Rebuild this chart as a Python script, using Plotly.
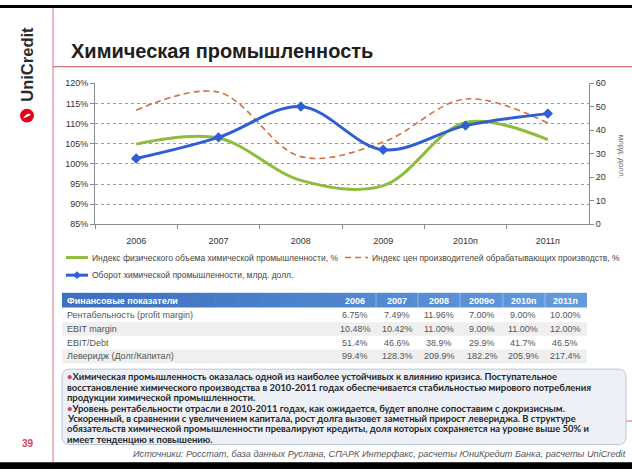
import plotly.graph_objects as go

W, H = 632, 474

# ---------------- data ----------------
categories = ["2006", "2007", "2008", "2009", "2010п", "2011п"]
phys_volume_idx = [104.9, 106.4, 95.9, 94.6, 110.3, 106.0]      # %, left axis
producer_price_idx = [113.3, 117.8, 101.8, 105.4, 116.1, 110.1]  # %, left axis
turnover_bn_usd = [28.0, 37.0, 50.1, 31.7, 42.0, 47.1]           # right axis

series_names = [
    "Индекс физического объема химической промышленности, %",
    "Индекс цен производителей обрабатывающих производств, %",
    "Оборот химической промышленности, млрд. долл.",
]

left_ticks = [85, 90, 95, 100, 105, 110, 115, 120]
right_ticks = [0, 10, 20, 30, 40, 50, 60]

table_header = ["Финансовые показатели", "2006", "2007", "2008", "2009о", "2010п", "2011п"]
table_rows = ["Рентабельность (profit margin)", "EBIT margin", "EBIT/Debt", "Леверидж (Долг/Капитал)"]
table_values = [
    ["6.75%", "7.49%", "11.96%", "7.00%", "9.00%", "10.00%"],
    ["10.48%", "10.42%", "11.00%", "9.00%", "11.00%", "12.00%"],
    ["51.4%", "46.6%", "38.9%", "29.9%", "41.7%", "46.5%"],
    ["99.4%", "128.3%", "209.9%", "182.2%", "205.9%", "217.4%"],
]

text_lines = [
    "<span style='color:#d2456a'>•</span>Химическая промышленность оказалась одной из наиболее устойчивых к влиянию кризиса. Поступательное",
    "восстановление химического производства в 2010-2011 годах обеспечивается стабильностью мирового потребления",
    "продукции химической промышленности.",
    "<span style='color:#d2456a'>•</span>Уровень рентабельности отрасли в 2010-2011 годах, как ожидается, будет вполне сопоставим с докризисным.",
    "Ускоренный, в сравнении с увеличением капитала, рост долга вызовет заметный прирост левериджа. В структуре",
    "обязательств химической промышленности превалируют кредиты, доля которых сохраняется на уровне выше 50% и",
    "имеет тенденцию к повышению.",
]
title_text = "Химическая промышленность"
source_text = "Источники: Росстат, база данных Руслана, СПАРК Интерфакс, расчеты ЮниКредит Банка, расчеты UniCredit"

# ---------------- helpers ----------------
def px(x):
    return x / W

def py(y):
    return 1 - y / H

FONT = "Liberation Sans, Arial, sans-serif"
GREEN = "#8dbd3c"
ORANGE = "#d8703e"
BLUE = "#2f5fd2"
RED = "#d9707c"

fig = go.Figure()

fig.add_trace(go.Scatter(
    x=categories, y=phys_volume_idx, mode="lines", name=series_names[0],
    line=dict(color=GREEN, width=3, shape="spline", smoothing=1), yaxis="y"))
fig.add_trace(go.Scatter(
    x=categories, y=producer_price_idx, mode="lines", name=series_names[1],
    line=dict(color=ORANGE, width=1.6, shape="spline", smoothing=1, dash="6px,4px"), yaxis="y"))
fig.add_trace(go.Scatter(
    x=categories, y=turnover_bn_usd, mode="lines+markers", name=series_names[2],
    line=dict(color=BLUE, width=3, shape="spline", smoothing=1),
    marker=dict(symbol="diamond", size=8, color=BLUE), yaxis="y2"))

shapes = []
ann = []

def text(t, x, y, font, xa="center", ya="middle", angle=0):
    ann.append(dict(text=t, x=px(x), y=py(y), xref="paper", yref="paper",
                    xanchor=xa, yanchor=ya, textangle=angle, showarrow=False, font=font))

# black bars top / bottom
shapes.append(dict(type="rect", xref="paper", yref="paper", x0=0, x1=1, y0=py(0), y1=py(3),
                   fillcolor="black", line=dict(width=0), layer="above"))
shapes.append(dict(type="rect", xref="paper", yref="paper", x0=0, x1=1, y0=py(467), y1=py(474),
                   fillcolor="black", line=dict(width=0), layer="above"))
# red vertical and title underline
shapes.append(dict(type="line", xref="paper", yref="paper", x0=px(53), x1=px(53), y0=py(3), y1=py(467),
                   line=dict(color=RED, width=1)))
shapes.append(dict(type="line", xref="paper", yref="paper", x0=px(53), x1=px(632), y0=py(63), y1=py(63),
                   line=dict(color=RED, width=1.2)))
shapes.append(dict(type="line", xref="paper", yref="paper", x0=px(626), x1=px(632), y0=py(425), y1=py(425),
                   line=dict(color=RED, width=1)))

# logo
text("<b>UniCredit</b>", 27, 61, dict(family=FONT, size=16.5, color="#2a2a2a"), angle=-90)
shapes.append(dict(type="circle", xref="paper", yref="paper", x0=px(20), x1=px(34), y0=py(106), y1=py(120),
                   fillcolor="#e2001a", line=dict(width=0)))
shapes.append(dict(type="path", xref="paper", yref="paper",
                   path=f"M {px(23)},{py(116)} Q {px(27)},{py(109)} {px(31)},{py(112)} L {px(28)},{py(114)} Z",
                   fillcolor="white", line=dict(width=0)))

# title
text(f"<b>{title_text}</b>", 69, 47, dict(family=FONT, size=20, color="#1e1e1e"), xa="left")

# right axis title
text("млрд. долл.", 621, 155, dict(family=FONT, size=8, color="#666"), angle=90)

# legend (manual)
LEG_FONT = dict(family=FONT, size=8.5, color="#444")
shapes.append(dict(type="line", xref="paper", yref="paper", x0=px(66), x1=px(88), y0=py(258), y1=py(258),
                   line=dict(color=GREEN, width=3)))
text(series_names[0], 90, 258, LEG_FONT, xa="left")
shapes.append(dict(type="line", xref="paper", yref="paper", x0=px(345), x1=px(368), y0=py(258), y1=py(258),
                   line=dict(color=ORANGE, width=1.6, dash="6px,4px")))
text(series_names[1], 370, 258, LEG_FONT, xa="left")
shapes.append(dict(type="line", xref="paper", yref="paper", x0=px(66), x1=px(88), y0=py(276), y1=py(276),
                   line=dict(color=BLUE, width=3)))
shapes.append(dict(type="path", xref="paper", yref="paper",
                   path=f"M {px(77)},{py(272)} L {px(81)},{py(276)} L {px(77)},{py(280)} L {px(73)},{py(276)} Z",
                   fillcolor=BLUE, line=dict(width=0)))
text(series_names[2], 90, 276, LEG_FONT, xa="left")

# table
tx0, tx1 = 62, 587
hy0, hy1 = 294, 309
nstrip = 24
for i in range(nstrip):
    a = i / (nstrip - 1)
    r = int(0x3d + (0x63 - 0x3d) * a)
    g = int(0x70 + (0x9a - 0x70) * a)
    b = int(0xc0 + (0xdc - 0xc0) * a)
    sx0 = tx0 + (tx1 - tx0) * i / nstrip
    sx1 = tx0 + (tx1 - tx0) * (i + 1) / nstrip + 0.6
    shapes.append(dict(type="rect", xref="paper", yref="paper", x0=px(sx0), x1=px(min(sx1, tx1)),
                       y0=py(hy1), y1=py(hy0), fillcolor=f"rgb({r},{g},{b})", line=dict(width=0)))
col_x = [355, 397, 439, 482, 523, 565]
for sep in [376, 418, 460, 503, 545]:
    shapes.append(dict(type="line", xref="paper", yref="paper", x0=px(sep), x1=px(sep), y0=py(hy1), y1=py(hy0),
                       line=dict(color="rgba(255,255,255,0.35)", width=1)))
HDR_FONT = dict(family=FONT, size=9, color="white")
text(f"<b>{table_header[0]}</b>", 65, 302, HDR_FONT, xa="left")
for cx, h in zip(col_x, table_header[1:]):
    text(f"<b>{h}</b>", cx, 302, HDR_FONT)
row_y = [317, 331, 345, 359]
CELL_FONT = dict(family=FONT, size=9, color="#555")
for ri, (ry, label, vals) in enumerate(zip(row_y, table_rows, table_values)):
    if ri % 2 == 1:
        shapes.append(dict(type="rect", xref="paper", yref="paper", x0=px(tx0), x1=px(tx1),
                           y0=py(ry + 7), y1=py(ry - 7), fillcolor="#efefef", line=dict(width=0)))
    text(label, 65, ry, CELL_FONT, xa="left")
    for cx, v in zip(col_x, vals):
        text(v, cx, ry, CELL_FONT)

# text box
bx0, by0, bx1, by1, rr = 62, 372, 626, 449, 8
def P(x, y):
    return f"{px(x)},{py(y)}"
box_path = (f"M {P(bx0+rr, by0)} L {P(bx1-rr, by0)} Q {P(bx1, by0)} {P(bx1, by0+rr)} "
            f"L {P(bx1, by1-rr)} Q {P(bx1, by1)} {P(bx1-rr, by1)} L {P(bx0+rr, by1)} "
            f"Q {P(bx0, by1)} {P(bx0, by1-rr)} L {P(bx0, by0+rr)} Q {P(bx0, by0)} {P(bx0+rr, by0)} Z")
shapes.append(dict(type="path", xref="paper", yref="paper", path=box_path,
                   fillcolor="#edf1f7", line=dict(color="#b9c6da", width=1), layer="below"))
for i, line in enumerate(text_lines):
    text(f"<b>{line}</b>", 65, 380 + i * 10.6,
         dict(family="Lato, Liberation Sans, sans-serif", size=9.45, color="#262626"), xa="left")

# source
text(f"<i>{source_text}</i>", 628, 459, dict(family=FONT, size=9.2, color="#555"), xa="right")

# page number
text("<b>39</b>", 28, 448, dict(family=FONT, size=10, color="#d2456a"))

AX = "#8c8c8c"
fig.update_layout(
    width=W, height=H, autosize=False,
    margin=dict(l=0, r=0, t=0, b=0),
    paper_bgcolor="white", plot_bgcolor="white",
    showlegend=False,
    shapes=shapes, annotations=ann,
    xaxis=dict(domain=[px(95), px(589)], type="category", range=[-0.5, 5.5],
               showline=True, linecolor=AX, linewidth=1, ticks="outside", tickson="boundaries",
               ticklen=4, tickcolor=AX, tickfont=dict(family=FONT, size=9, color="#333"),
               ticklabelstandoff=8,
               showgrid=False, zeroline=False, fixedrange=True),
    yaxis=dict(domain=[py(224), py(80)], range=[85, 120], tickvals=left_ticks,
               ticktext=[f"{v}%" for v in left_ticks],
               showline=True, linecolor=AX, ticks="outside", ticklen=4, tickcolor=AX,
               tickfont=dict(family=FONT, size=9, color="#333"),
               showgrid=True, gridcolor="#9a9a9a", griddash="dot", gridwidth=1, zeroline=False),
    yaxis2=dict(overlaying="y", side="right", range=[0, 60], tickvals=right_ticks,
                showline=True, linecolor=AX, ticks="outside", ticklen=4, tickcolor=AX,
                tickfont=dict(family=FONT, size=9, color="#333"),
                showgrid=False, zeroline=False, anchor="x"),
)

fig.write_html("out.html")
